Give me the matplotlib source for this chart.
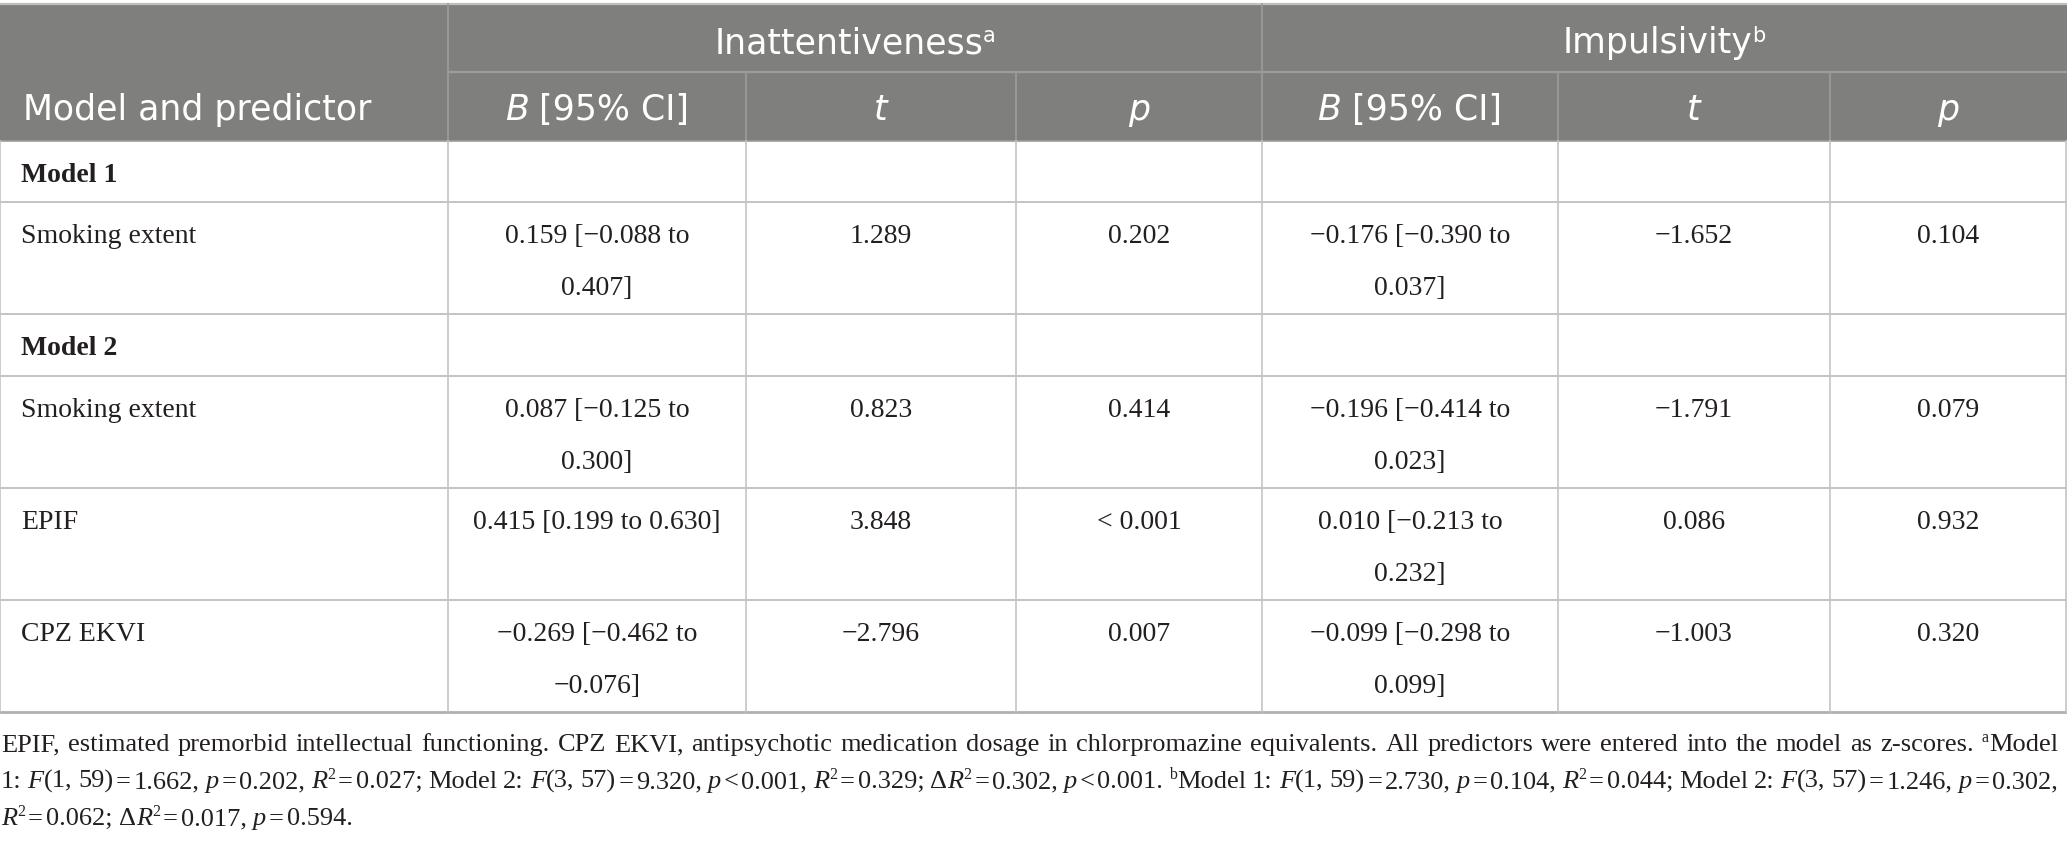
import matplotlib
matplotlib.use('Agg')
import matplotlib.pyplot as plt

# Table content
group_labels = ['Inattentiveness', 'Impulsivity']
group_sups = ['a', 'b']
sub_headers = ['B [95% CI]', 't', 'p']
first_header = 'Model and predictor'

# rows: (label, bold?, cells...)  cells may contain '\n' for wrapped lines
row_labels = ['Model 1', 'Smoking extent', 'Model 2', 'Smoking extent', 'EPIF', 'CPZ EKVI']
row_bold = [True, False, True, False, False, False]
inatt_B = ['', '0.159 [\u22120.088 to\n0.407]', '', '0.087 [\u22120.125 to\n0.300]',
           '0.415 [0.199 to 0.630]', '\u22120.269 [\u22120.462 to\n\u22120.076]']
inatt_t = ['', '1.289', '', '0.823', '3.848', '\u22122.796']
inatt_p = ['', '0.202', '', '0.414', '< 0.001', '0.007']
impul_B = ['', '\u22120.176 [\u22120.390 to\n0.037]', '', '\u22120.196 [\u22120.414 to\n0.023]',
           '0.010 [\u22120.213 to\n0.232]', '\u22120.099 [\u22120.298 to\n0.099]']
impul_t = ['', '\u22121.652', '', '\u22121.791', '0.086', '\u22121.003']
impul_p = ['', '0.104', '', '0.079', '0.932', '0.320']

# footnote, one string per printed line. _x_ italic, ^x^ superscript, ~ thin gap
footnote = [
    'EPIF, estimated premorbid intellectual functioning. CPZ EKVI, antipsychotic medication dosage '
    'in chlorpromazine equivalents. All predictors were entered into the model as z-scores. ^a^Model',
    '1: _F_(1, 59)~=~1.662, _p_~=~0.202, _R_^2^~=~0.027; Model 2: _F_(3, 57)~=~9.320, _p_~<~0.001, '
    '_R_^2^~=~0.329; \u0394_R_^2^~=~0.302, _p_~<~0.001. ^b^Model 1: _F_(1, 59)~=~2.730, _p_~=~0.104, '
    '_R_^2^~=~0.044; Model 2: _F_(3, 57)~=~1.246, _p_~=~0.302,',
    '_R_^2^~=~0.062; \u0394_R_^2^~=~0.017, _p_~=~0.594.',
]

# layout in pixels
W, H = 2067, 842
col_edges = [0, 448, 746, 1016, 1262, 1558, 1830, 2066]
row_edges = [4, 72, 141, 202, 314, 376, 488, 600, 712]
HEAD_BG = '#7f807e'
HEAD_LINE = '#9c9d9b'
GRID = '#c4c4c4'
SANS = 'DejaVu Sans'
SERIF = 'Liberation Serif'
HEAD_FS = 25
BODY_FS = 20
FOOT_FS = 19

fig = plt.figure(figsize=(W / 100, H / 100), dpi=100)
ax = fig.add_axes([0, 0, 1, 1])
ax.set_xlim(0, W)
ax.set_ylim(H, 0)
ax.axis('off')
renderer = fig.canvas.get_renderer()


def width_of(txt, **kw):
    t = ax.text(0, 0, txt, **kw)
    w = t.get_window_extent(renderer).width
    t.remove()
    return w


def draw_runs(runs, x, y, ha='left', **base):
    # runs: list of (text, style) with style in 'r', 'i', 'b', 'sup', 'gap'
    fs = base.get('fontsize', BODY_FS)
    pieces = []
    for txt, st in runs:
        if st == 'gap':
            pieces.append((None, None, float(txt) * fs / 20.0))
            continue
        kw = dict(base)
        if st == 'i':
            kw['style'] = 'italic'
        elif st == 'b':
            kw['weight'] = 'bold'
        elif st == 'sup':
            kw['fontsize'] = fs * 0.6
        pieces.append((txt, st, width_of(txt, **kw)))
    total = sum(p[2] for p in pieces)
    cx = x - total / 2 if ha == 'center' else x
    for txt, st, w in pieces:
        if txt is not None:
            kw = dict(base)
            yy = y
            if st == 'i':
                kw['style'] = 'italic'
            elif st == 'b':
                kw['weight'] = 'bold'
            elif st == 'sup':
                kw['fontsize'] = fs * 0.6
                yy = y - fs * 0.45
            ax.text(cx, yy, txt, ha='left', va='baseline', **kw)
        cx += w
    return total


def parse_word(word):
    runs = []
    buf = ''
    mode = 'r'
    for c in word:
        if c in '_^~':
            if buf:
                runs.append((buf, mode))
                buf = ''
            if c == '_':
                mode = 'r' if mode == 'i' else 'i'
            elif c == '^':
                mode = 'r' if mode == 'sup' else 'sup'
            else:
                runs.append(('3', 'gap'))
        else:
            buf += c
    if buf:
        runs.append((buf, mode))
    return runs


# header background
ax.add_patch(plt.Rectangle((0, row_edges[0]), W, row_edges[2] - row_edges[0],
                           facecolor=HEAD_BG, edgecolor='none', zorder=0))

# header lines
ax.plot([0, W], [row_edges[0], row_edges[0]], color='#c0c0c0', lw=1.6)
ax.plot([col_edges[1], W], [row_edges[1], row_edges[1]], color=HEAD_LINE, lw=1.6)
ax.plot([0, W], [row_edges[2], row_edges[2]], color=HEAD_LINE, lw=1.2)
for xe in [col_edges[1], col_edges[4]]:
    ax.plot([xe, xe], [row_edges[0], row_edges[2]], color=HEAD_LINE, lw=1.2)
for xe in [col_edges[2], col_edges[3], col_edges[5], col_edges[6]]:
    ax.plot([xe, xe], [row_edges[1], row_edges[2]], color=HEAD_LINE, lw=1.2)

# body lines
for ye in row_edges[3:-1]:
    ax.plot([0, W], [ye, ye], color=GRID, lw=1.4)
ax.plot([0, W], [row_edges[-1], row_edges[-1]], color='#b0b0b0', lw=2.0)
for xe in col_edges:
    ax.plot([xe, xe], [row_edges[2], row_edges[-1]], color=GRID, lw=1.2)

# header text
head_kw = dict(fontsize=HEAD_FS, family=SANS, color='white')
for g in range(2):
    cx = (col_edges[1 + 3 * g] + col_edges[4 + 3 * g]) / 2
    draw_runs([(group_labels[g], 'r'), (group_sups[g], 'sup')], cx, 53, ha='center', **head_kw)
ax.text(23, 120, first_header, ha='left', va='baseline', **head_kw)
for g in range(2):
    for k, lab in enumerate(sub_headers):
        c = 1 + 3 * g + k
        cx = (col_edges[c] + col_edges[c + 1]) / 2
        if k == 0:
            runs = [('B', 'i'), (' [95% CI]', 'r')]
        else:
            runs = [(lab, 'i')]
        draw_runs(runs, cx, 120, ha='center', **head_kw)

# body text
body_kw = dict(fontsize=BODY_FS, family=SERIF, color='#231f20')
columns = [inatt_B, inatt_t, inatt_p, impul_B, impul_t, impul_p]
for r, lab in enumerate(row_labels):
    top = row_edges[2 + r]
    base_y = top + 41
    ax.text(21, base_y, lab, ha='left', va='baseline',
            weight='bold' if row_bold[r] else 'normal', **body_kw)
    for c, col in enumerate(columns):
        cx = (col_edges[c + 1] + col_edges[c + 2]) / 2
        for j, line in enumerate(col[r].split('\n')):
            if line:
                ax.text(cx, base_y + 52 * j, line, ha='center', va='baseline', **body_kw)

# footnote, justified except last line
foot_kw = dict(fontsize=FOOT_FS, family=SERIF, color='#231f20')
space_w = width_of('a a', **foot_kw) - width_of('aa', **foot_kw)
left, right = 1, 2058
for li, line in enumerate(footnote):
    words = [parse_word(w) for w in line.split(' ')]
    y = 751 + 37 * li
    widths = []
    for runs in words:
        wsum = 0
        for txt, st in runs:
            if st == 'gap':
                wsum += float(txt) * FOOT_FS / 20.0
            else:
                kw = dict(foot_kw)
                if st == 'i':
                    kw['style'] = 'italic'
                elif st == 'sup':
                    kw['fontsize'] = FOOT_FS * 0.6
                wsum += width_of(txt, **kw)
        widths.append(wsum)
    if li < len(footnote) - 1 and len(words) > 1:
        gap = (right - left - sum(widths)) / (len(words) - 1)
    else:
        gap = space_w
    x = left
    for runs, w in zip(words, widths):
        draw_runs(runs, x, y, ha='left', **foot_kw)
        x += w + gap

fig.savefig('out.png', dpi=100)
